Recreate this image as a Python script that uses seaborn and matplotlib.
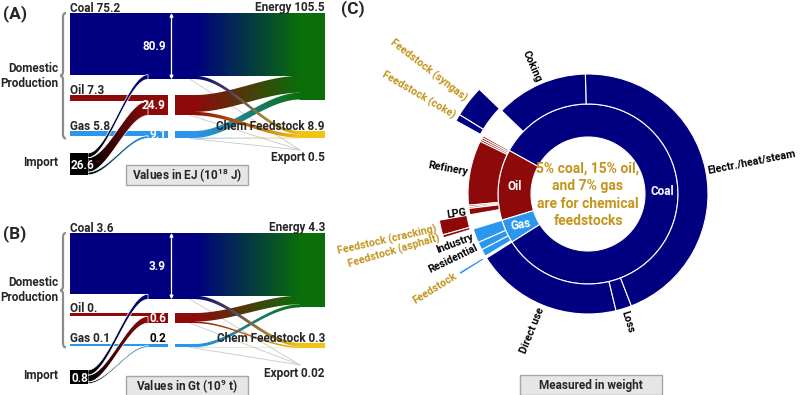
import numpy as np
import matplotlib
matplotlib.use("Agg")
import matplotlib.pyplot as plt
from matplotlib.patches import Rectangle, Wedge, Polygon, FancyArrowPatch, PathPatch
from matplotlib.path import Path
import seaborn as sns

sns.set_theme(style="white")
plt.rcParams['font.family'] = ['Roboto', 'DejaVu Sans']
plt.rcParams['font.weight'] = 'bold'
plt.rcParams['mathtext.fontset'] = 'custom'
plt.rcParams['mathtext.rm'] = 'Roboto:bold'
plt.rcParams['mathtext.it'] = 'Roboto:bold'
plt.rcParams['mathtext.bf'] = 'Roboto:bold'

# ---------------- data ----------------
sources = ['Coal', 'Oil', 'Gas']

# panel A, energy content (EJ)
dom_ej = [75.2, 7.3, 5.8]
imp_ej = [5.7, 17.6, 3.3]
energy_ej = [76.6, 20.6, 8.3]
feed_ej = [4.0, 4.2, 0.7]
export_ej = [0.3, 0.1, 0.1]
left_lbl_a = ['Coal 75.2', 'Oil 7.3', 'Gas 5.8']
total_lbl_a = ['80.9', '24.9', '9.1']
right_lbl_a = ['Energy 105.5', 'Chem Feedstock 8.9', 'Export 0.5']
import_lbl_a = '26.6'

# panel B, weight (Gt)
dom_gt = [3.6, 0.2, 0.1]
imp_gt = [0.3, 0.4, 0.1]
energy_gt = [3.69, 0.505, 0.181]
feed_gt = [0.2, 0.09, 0.014]
export_gt = [0.01, 0.005, 0.005]
left_lbl_b = ['Coal 3.6', 'Oil 0.', 'Gas 0.1']
total_lbl_b = ['3.9', '0.6', '0.2']
right_lbl_b = ['Energy 4.3', 'Chem Feedstock 0.3', 'Export 0.02']
import_lbl_b = '0.8'

# panel C, sunburst by weight (Gt); order counter-clockwise
ring1_names = ['Oil', 'Gas', 'Coal']
ring1_vals = [0.6, 0.2, 3.9]
oil_parts = ['', '', '', 'Refinery', '', '', 'LPG', 'Feedstock (cracking)', 'Feedstock (asphalt)']
oil_vals = [0.013, 0.013, 0.013, 0.41, 0.01, 0.01, 0.04, 0.075, 0.015]
gas_parts = ['Industry', 'Residential', '', 'Feedstock']
gas_vals = [0.09, 0.05, 0.046, 0.014]
coal_parts = ['Direct use', 'Loss', 'Electr./heat/steam', 'Coking', 'Feedstock (syngas)', 'Feedstock (coke)']
coal_vals = [0.93, 0.10, 2.09, 0.585, 0.16, 0.035]
center_text = "5% coal, 15% oil,\nand 7% gas\nare for chemical\nfeedstocks"

# ---------------- style ----------------
src_colors = ['#000080', '#8e0a0a', '#2a96ee']
energy_color = '#0a6e0a'
feed_color = '#f3c312'
gold = '#c4941c'
grey_line = '#c8c8c8'
fs = 8.5


def band(ax, x0, x1, t0, b0, t1, b1, c0, c1, z=2, outline=False):
    t = np.linspace(0, 1, 80)
    s = t * t * (3 - 2 * t)
    xs = x0 + (x1 - x0) * t
    top = t0 + (t1 - t0) * s
    bot = b0 + (b1 - b0) * s
    verts = np.vstack([np.column_stack([xs, top]), np.column_stack([xs[::-1], bot[::-1]])])
    clip = Polygon(verts, closed=True, fc='none', ec='none')
    ax.add_patch(clip)
    cmap = sns.blend_palette([c0, c1], as_cmap=True)
    grad = np.linspace(0, 1, 256).reshape(1, -1)
    im = ax.imshow(grad, cmap=cmap, extent=[x0, x1, max(b0, b1) + 1, min(t0, t1) - 1],
                   aspect='auto', zorder=z, interpolation='bilinear')
    im.set_clip_path(clip)
    if outline:
        ax.add_patch(Polygon(verts, closed=True, fc='none', ec='white', lw=0.5, zorder=z + 0.05))


def brace(ax, x, y0, y1):
    ym = (y0 + y1) / 2
    verts = [(x + 4, y0), (x + 1, y0), (x + 1, y0 + 4),
             (x + 1, ym - 4), (x + 1, ym), (x - 2, ym),
             (x + 1, ym), (x + 1, ym + 4),
             (x + 1, y1 - 4), (x + 1, y1), (x + 4, y1)]
    codes = [Path.MOVETO, Path.CURVE3, Path.CURVE3,
             Path.LINETO, Path.CURVE3, Path.CURVE3,
             Path.CURVE3, Path.CURVE3,
             Path.LINETO, Path.CURVE3, Path.CURVE3]
    ax.add_patch(PathPatch(Path(verts, codes), fc='none', ec='#8c8c8c', lw=1.6, zorder=3))


def sankey(ax, dom, imp, en, fd, ex, scale, tops, imp_top, en_top, fd_top, ex_y,
           left_lbl, total_lbl, right_lbl, import_lbl, total_colors, arrows, panel, unit_text, box_y):
    xl, xi, xm, xs, xr, xe = 70, 88, 148, 195, 300, 325
    y_imp = imp_top
    en_y, fd_y = en_top, fd_top
    for i in range(3):
        c = src_colors[i]
        top = tops[i]
        hd, hi = dom[i] * scale, imp[i] * scale
        ax.add_patch(Rectangle((xl, top), xs - xl, hd, fc=c, lw=0, zorder=2))
        ax.add_patch(Rectangle((xm - 1, top + hd), xs - xm + 1, hi, fc=c, lw=0, zorder=2))
        band(ax, xi, xm, y_imp, y_imp + hi, top + hd, top + hd + hi, 'black', c, z=3, outline=True)
        y_imp += hi
        # outgoing flows
        y = top
        he = en[i] * scale
        band(ax, xs, xr, y, y + he, en_y, en_y + he, c, energy_color, z=2)
        y += he
        en_y += he
        hf = fd[i] * scale
        band(ax, xs, xr, y, y + hf, fd_y, fd_y + hf, c, feed_color, z=2.5 + i * 0.1)
        y += hf
        fd_y += hf
        hx = ex[i] * scale
        ax.plot([xs - 5, xr], [y + hx / 2, ex_y], color=grey_line, lw=max(hx * 0.72, 0.6), zorder=1.5)
        # total marker
        h_tot = hd + hi
        if i > 0:
            ax.add_patch(Rectangle((168, top - 0.5), 7, h_tot + 1, fc='white', lw=0, zorder=3.3))
        if arrows[i]:
            ax.add_patch(FancyArrowPatch((171.5, top), (171.5, top + h_tot), arrowstyle='<|-|>',
                                         mutation_scale=5, color='white', lw=0.9, zorder=4,
                                         shrinkA=0, shrinkB=0))
        ty = top + h_tot / 2 if total_colors[i] == 'white' else top - 5
        ax.text(166, ty, total_lbl[i], color=total_colors[i], fontsize=fs, ha='right',
                va='center', zorder=5)
        ax.text(xl, top - 1.5, left_lbl[i], fontsize=fs, ha='left', va='baseline', zorder=5)
    # import node
    ax.add_patch(Rectangle((xl, imp_top), xi - xl, y_imp - imp_top, fc='black', lw=0, zorder=4))
    ax.text(xl + 1, (imp_top + y_imp) / 2 + 2, import_lbl, color='white', fontsize=fs,
            ha='left', va='center', zorder=5)
    ax.text(58, (imp_top + y_imp) / 2 - 1, 'Import', fontsize=fs, ha='right', va='center')
    # right nodes
    ax.add_patch(Rectangle((xr, en_top), xe - xr, en_y - en_top, fc=energy_color, lw=0, zorder=4))
    ax.add_patch(Rectangle((xr, fd_top), xe - xr, fd_y - fd_top, fc=feed_color, lw=0, zorder=4))
    ax.text(xe, en_top - 1.5, right_lbl[0], fontsize=fs, ha='right', va='baseline', zorder=5)
    ax.text(xe, fd_top - 5, right_lbl[1], fontsize=fs, ha='right', va='center', zorder=6)
    ax.text(xe, ex_y + 8, right_lbl[2], fontsize=fs, ha='right', va='center', zorder=6)
    # brace and domestic label
    b_bot = tops[2] + (dom[2] + imp[2]) * scale
    brace(ax, 62, tops[0], b_bot)
    ax.text(58, (tops[0] + b_bot) / 2, 'Domestic\nProduction', fontsize=fs, ha='right',
            va='center', linespacing=1.2)
    ax.text(3, tops[0] + 1, panel, fontsize=12.5, ha='left', va='center')
    ax.add_patch(Rectangle((126, box_y), 122, 20, fc='#e6e6e6', ec='#a6a6a6', lw=1, zorder=5))
    ax.text(187, box_y + 10, unit_text, fontsize=fs, ha='center', va='center', zorder=6)


fig = plt.figure(figsize=(8, 3.95), dpi=100)
fig.patch.set_facecolor('white')

axAB = fig.add_axes([0, 0, 340 / 800, 1])
sankey(axAB, dom_ej, imp_ej, energy_ej, feed_ej, export_ej, 0.82,
       [13, 95, 131], 153, 13, 131, 150,
       left_lbl_a, total_lbl_a, right_lbl_a, import_lbl_a, ['white', 'white', 'white'],
       [True, True, False], '(A)', r'Values in EJ (10$^{18}$ J)', 165)
sankey(axAB, dom_gt, imp_gt, energy_gt, feed_gt, export_gt, 17,
       [233, 313, 344], 370, 233, 343, 365,
       left_lbl_b, total_lbl_b, right_lbl_b, import_lbl_b, ['white', 'white', 'black'],
       [True, False, False], '(B)', r'Values in Gt (10$^{9}$ t)', 376)
axAB.set_xlim(0, 340)
axAB.set_ylim(395, 0)
axAB.axis('off')

# ---------------- panel C: sunburst ----------------
axC = fig.add_axes([340 / 800, 0, 460 / 800, 1])
cx, cy = 588, 194
r0, r1, r2, r3a, r3b = 57, 90, 120, 123, 151
deg = 360.0 / sum(ring1_vals)
start = 151.0


def wedge(a1, a2, ri, ro, color):
    axC.add_patch(Wedge((cx, cy), ro, -a2, -a1, width=ro - ri, fc=color, ec='white', lw=0.8, zorder=2))


def radial_label(ang, r, txt, color, size=7.7):
    a = np.deg2rad(ang)
    x, y = cx + r * np.cos(a), cy - r * np.sin(a)
    ang_n = ang % 360
    if 90 < ang_n < 270:
        rot, ha = ang_n - 180, 'right'
    else:
        rot, ha = ang_n, 'left'
    axC.text(x, y, txt, rotation=rot, rotation_mode='anchor', ha=ha, va='center',
             fontsize=size, color=color, zorder=5)


parts = {'Oil': (oil_parts, oil_vals), 'Gas': (gas_parts, gas_vals), 'Coal': (coal_parts, coal_vals)}
a = start
for name, val, col in zip(ring1_names, ring1_vals, [src_colors[1], src_colors[2], src_colors[0]]):
    a_end = a + val * deg
    wedge(a, a_end, r0, r1, col)
    mid = np.deg2rad((a + a_end) / 2)
    axC.text(cx + 74 * np.cos(mid), cy - 74 * np.sin(mid), name, color='white', fontsize=8.5,
             ha='center', va='center', zorder=5,
             rotation=10 if name == 'Gas' else 0)
    b = a
    for pn, pv in zip(*parts[name]):
        b_end = b + pv * deg
        m = (b + b_end) / 2
        if pn.startswith('Feedstock'):
            wedge(b, b_end, r3a, r3b, col)
            radial_label(m, 155, pn, gold)
        else:
            wedge(b, b_end, r1, r2, col)
            if pn:
                radial_label(m, 122.5, pn, 'black')
        b = b_end
    a = a_end

axC.text(cx, cy + 1, center_text, color=gold, fontsize=10, ha='center', va='center',
         linespacing=1.3, zorder=6)
axC.text(341, 9, '(C)', fontsize=12.5, ha='left', va='center')
axC.add_patch(Rectangle((520, 375), 142, 20, fc='#e6e6e6', ec='#a6a6a6', lw=1, zorder=5))
axC.text(591, 385, 'Measured in weight', fontsize=fs, ha='center', va='center', zorder=6)
axC.set_xlim(340, 800)
axC.set_ylim(395, 0)
axC.axis('off')

fig.savefig('out.png', dpi=100, facecolor='white')
